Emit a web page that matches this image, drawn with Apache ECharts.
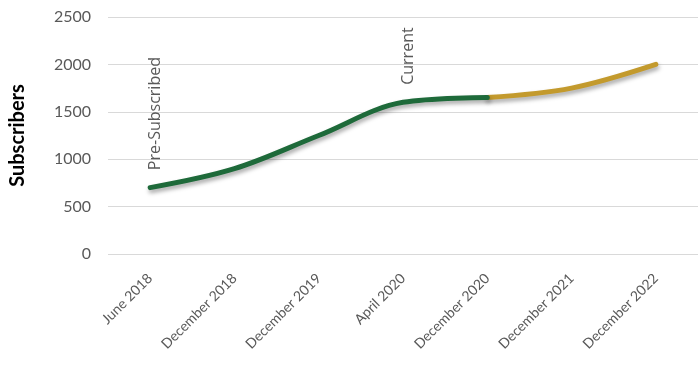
<!DOCTYPE html>
<html><head><meta charset="utf-8">
<script src="https://cdn.jsdelivr.net/npm/echarts@6/dist/echarts.min.js"></script>
<style>html,body{margin:0;padding:0;background:#fff}#c{width:698px;height:366px}</style>
</head><body><div id="c"></div>
<script>
const categories = ["June 2018","December 2018","December 2019","April 2020","December 2020","December 2021","December 2022"];
const actualValues = [700, 900, 1250, 1600, 1650, null, null];
const projectedValues = [null, null, null, null, 1650, 1750, 2000];
const annotations = {0: "Pre-Subscribed", 3: "Current"};
const yTicks = {min: 0, max: 2500, interval: 500};

const chart = echarts.init(document.getElementById('c'));
const font = 'Lato, "Open Sans", sans-serif';
const actualData = actualValues.map((v, i) => annotations[i] ? {
  value: v,
  label: {show: true, formatter: annotations[i], position: 'top', rotate: 90, align: 'left', verticalAlign: 'middle', distance: 17, offset: [0, 5], color: '#595959', fontSize: 16, fontFamily: '"Open Sans", sans-serif'}
} : v);
const shadow = {shadowColor: 'rgba(0,0,0,0.35)', shadowBlur: 4, shadowOffsetY: 3, shadowOffsetX: 1};
chart.setOption({
  animation: false,
  grid: {left: 107, top: 17, width: 602, bottom: 112},
  xAxis: {
    type: 'category', data: categories, boundaryGap: true,
    axisLine: {show: false}, axisTick: {show: false},
    axisLabel: {rotate: 45, color: '#595959', fontSize: 14, fontFamily: font, margin: 22, interval: 0}
  },
  yAxis: {
    type: 'value', min: yTicks.min, max: yTicks.max, interval: yTicks.interval,
    name: 'Subscribers', nameLocation: 'middle', nameGap: 80, nameRotate: 90,
    nameTextStyle: {color: '#000', fontWeight: 'bold', fontSize: 20, fontFamily: font},
    axisLabel: {color: '#595959', fontSize: 16, fontFamily: font, margin: 17, formatter: v => String(v)},
    splitLine: {lineStyle: {color: '#d9d9d9', width: 1}},
    axisLine: {show: false}, axisTick: {show: false}
  },
  series: [
    {type: 'line', data: actualData, smooth: 0.35, symbol: 'circle', symbolSize: 1, showSymbol: true, connectNulls: false,
     itemStyle: {color: 'rgba(0,0,0,0)'},
     lineStyle: Object.assign({color: '#1e6a3a', width: 5, cap: 'round'}, shadow), z: 3},
    {type: 'line', data: projectedValues, smooth: 0.35, symbol: 'none',
     itemStyle: {color: '#c39a2d'},
     lineStyle: Object.assign({color: '#c39a2d', width: 5, cap: 'round'}, shadow), z: 2}
  ]
});
</script></body></html>
